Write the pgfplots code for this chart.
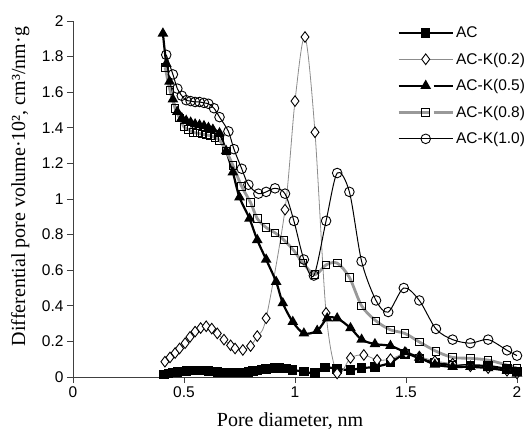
\documentclass[border=0pt]{standalone}
\usepackage{pgfplots}
\pgfplotsset{compat=1.18}
\usepackage{fontspec}
\setmainfont{Liberation Serif}
\newfontfamily\arial{Liberation Sans}

\definecolor{lgray}{HTML}{8C8C8C}
\definecolor{mgray}{HTML}{999999}

\begin{document}
\begin{tikzpicture}
\path[use as bounding box] (-73pt,-55pt) rectangle (456pt,377pt);
\begin{axis}[
    scale only axis,
    width=444pt, height=356pt,
    xmin=0, xmax=2, ymin=0, ymax=2,
    xtick={0,0.5,...,2}, ytick={0,0.2,...,2},
    axis lines*=left,
    axis line style={black!75, line width=0.8pt, -},
    tick align=outside,
    major tick length=6pt,
    tick style={black!75, line width=0.8pt},
    /pgf/number format/assume math mode=true,
    ticklabel style={font=\arial\fontsize{15.5}{17}\selectfont},
    xlabel={Pore diameter, nm},
    ylabel={Differential pore volume·10², cm³/nm·g},
    label style={font=\fontsize{20}{22}\selectfont},
    xlabel style={at={(axis description cs:0.489,-0.124)}, anchor=center},
    ylabel style={at={(axis description cs:-0.119,0.535)}, anchor=center},
    legend style={at={(axis description cs:0.73,0.99)}, anchor=north west,
        draw=none, fill=none, font=\arial\fontsize{15.5}{17}\selectfont,
        row sep=9.8pt, inner sep=0pt},
    legend cell align=left,
    legend image code/.code={%
        \draw[mark repeat=2, mark phase=2] plot coordinates {(0pt,0pt) (27pt,0pt) (54pt,0pt)};},
  ]
% AC
\addplot[black, line width=2.2pt, smooth, mark=square*, mark size=3.6pt, mark options={solid, fill=black}]
coordinates{(0.41,0.015) (0.43,0.02) (0.45,0.024) (0.47,0.028) (0.49,0.031) (0.51,0.034) (0.53,0.036) (0.55,0.037) (0.57,0.037) (0.59,0.036) (0.61,0.034) (0.63,0.032) (0.65,0.029) (0.67,0.027) (0.69,0.025) (0.71,0.024) (0.73,0.024) (0.75,0.024) (0.77,0.026) (0.79,0.029) (0.81,0.033) (0.83,0.038) (0.85,0.042) (0.87,0.046) (0.89,0.049) (0.91,0.05) (0.93,0.05) (0.96,0.047) (0.99,0.04) (1.04,0.03) (1.09,0.022) (1.135,0.055) (1.19,0.045) (1.25,0.04) (1.30,0.05) (1.36,0.057) (1.43,0.08) (1.495,0.13) (1.56,0.105) (1.63,0.08) (1.71,0.068) (1.79,0.065) (1.87,0.062) (1.955,0.045) (2.0,0.03)};
\addlegendentry{AC}
% AC-K(0.2)
\addplot[lgray, line width=0.8pt, smooth, mark=diamond*, mark size=5.3pt, mark options={solid, fill=white, draw=black, line width=0.9pt}]
coordinates{(0.414,0.086) (0.437,0.11) (0.46,0.135) (0.48,0.16) (0.505,0.19) (0.527,0.225) (0.55,0.255) (0.575,0.275) (0.60,0.285) (0.625,0.272) (0.65,0.245) (0.68,0.21) (0.71,0.178) (0.73,0.16) (0.765,0.152) (0.80,0.174) (0.83,0.23) (0.87,0.33) (0.955,0.94) (1.0,1.55) (1.045,1.91) (1.09,1.375) (1.14,0.36) (1.19,0.02) (1.25,0.107) (1.31,0.124) (1.37,0.096) (1.43,0.10) (1.50,0.135) (1.56,0.115) (1.63,0.09) (1.71,0.075) (1.79,0.06) (1.87,0.05) (1.955,0.035) (2.0,0.02)};
\addlegendentry{AC-K(0.2)}
% AC-K(0.5)
\addplot[black, line width=2.2pt, smooth, mark=triangle*, mark size=4pt, mark options={solid, fill=black},
    legend image code/.code={\draw[dash pattern=on 30pt off 5pt, mark repeat=2, mark phase=2] plot coordinates {(0pt,0pt) (27pt,0pt) (54pt,0pt)};}]
coordinates{(0.405,1.93) (0.42,1.76) (0.435,1.66) (0.45,1.56) (0.47,1.49) (0.49,1.455) (0.51,1.44) (0.53,1.43) (0.55,1.42) (0.57,1.415) (0.59,1.41) (0.61,1.40) (0.63,1.39) (0.66,1.37) (0.69,1.27) (0.72,1.15) (0.75,1.01) (0.795,0.89) (0.83,0.77) (0.87,0.66) (0.915,0.535) (0.945,0.415) (0.99,0.31) (1.04,0.245) (1.10,0.26) (1.145,0.33) (1.19,0.33) (1.25,0.275) (1.30,0.21) (1.36,0.185) (1.43,0.175) (1.495,0.14) (1.56,0.11) (1.63,0.07) (1.71,0.057) (1.79,0.057) (1.87,0.05) (1.955,0.035) (2.0,0.02)};
\addlegendentry{AC-K(0.5)}
% AC-K(0.8)
\addplot[mgray, line width=2.8pt, smooth, mark=square, mark size=3.8pt, mark options={solid, draw=black, line width=0.9pt},
    legend image code/.code={\draw[dash pattern=on 30pt off 5pt, mark repeat=2, mark phase=2] plot coordinates {(0pt,0pt) (27pt,0pt) (54pt,0pt)};}]
coordinates{(0.415,1.74) (0.437,1.61) (0.46,1.51) (0.48,1.455) (0.50,1.405) (0.52,1.39) (0.54,1.375) (0.56,1.37) (0.58,1.365) (0.60,1.36) (0.62,1.355) (0.64,1.345) (0.66,1.33) (0.69,1.27) (0.72,1.19) (0.76,1.07) (0.80,0.98) (0.83,0.89) (0.87,0.84) (0.91,0.81) (0.95,0.77) (0.995,0.71) (1.036,0.64) (1.09,0.575) (1.14,0.63) (1.19,0.64) (1.245,0.56) (1.30,0.40) (1.365,0.315) (1.43,0.265) (1.495,0.245) (1.56,0.197) (1.635,0.145) (1.71,0.11) (1.79,0.105) (1.87,0.095) (1.955,0.067) (2.0,0.05)};
\addlegendentry{AC-K(0.8)}
% AC-K(1.0)
\addplot[black, line width=1pt, smooth, mark=o, mark size=4.8pt, mark options={solid, line width=0.9pt}]
coordinates{(0.42,1.81) (0.45,1.70) (0.47,1.62) (0.49,1.58) (0.51,1.555) (0.53,1.55) (0.55,1.545) (0.57,1.545) (0.59,1.54) (0.61,1.535) (0.635,1.51) (0.66,1.46) (0.70,1.38) (0.725,1.28) (0.76,1.17) (0.79,1.08) (0.835,1.03) (0.87,1.04) (0.91,1.06) (0.955,1.03) (0.995,0.877) (1.04,0.66) (1.085,0.57) (1.14,0.877) (1.19,1.146) (1.245,1.04) (1.30,0.65) (1.365,0.43) (1.42,0.365) (1.49,0.50) (1.56,0.43) (1.635,0.27) (1.71,0.21) (1.79,0.19) (1.87,0.21) (1.955,0.15) (2.0,0.12)};
\addlegendentry{AC-K(1.0)}
\end{axis}
\end{tikzpicture}
\end{document}
